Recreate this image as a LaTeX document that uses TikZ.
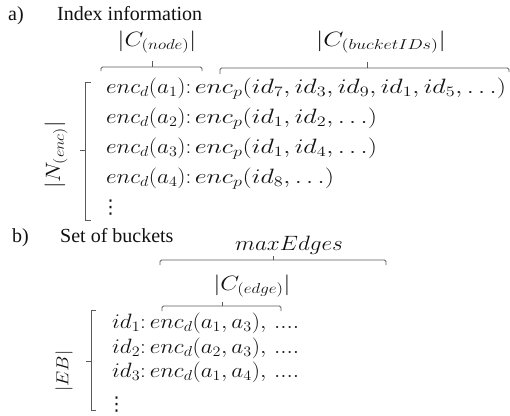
\documentclass[tikz,border=0pt]{standalone}
\usepackage{amsmath}
\usepackage{fontspec}
\setmainfont{Liberation Serif}
\newfontfamily\dvs{DejaVu Sans}
\usepackage{graphicx}
\definecolor{ln}{HTML}{5A5A5A}
\definecolor{txt}{HTML}{111111}
\newcommand{\hm}[1]{\scalebox{1.12}[1]{$#1$}}
\newcommand{\hp}[1]{\scalebox{1.26}[1]{$#1$}}
\newcommand{\vdt}{{\dvs\fontsize{19}{22}\selectfont ⋮}}
\begin{document}
\begin{tikzpicture}[x=1pt,y=-1pt,
  head/.style={font=\fontsize{20}{24}\selectfont, anchor=base west, inner sep=0pt, text=txt},
  rowa/.style={font=\fontsize{20}{24}\selectfont, anchor=base west, inner sep=0pt, text=txt},
  card/.style={font=\fontsize{21}{24}\selectfont, inner sep=0pt, text=txt},
  cardb/.style={font=\fontsize{16}{20}\selectfont, inner sep=0pt, text=txt},
  brk/.style={draw=ln, line width=0.9pt},
  brc/.style={draw=ln, line width=0.9pt, rounded corners=1.5pt}]
\useasboundingbox (0,0) rectangle (510,415);
% ---- a) ----
\node[head] (la) at (8,20) {a)};
\node[head] (ta) at (57,20) {Index information};
\node[card] (cn) at (157,42) {\scalebox{1.18}[1]{$\lvert C_{(node)}\rvert$}};
\node[card] (cb) at (381,42) {\scalebox{1.26}[1]{$\lvert C_{(bucketIDs)}\rvert$}};
\node[rowa] (r1) at (106,93) {\hm{enc_d(a_1){:}}\,\hp{enc_p(id_7,id_3,id_9,id_1,id_5,\ldots)}};
\node[rowa] (r2) at (106,123) {\hm{enc_d(a_2){:}}\,\hp{enc_p(id_1,id_2,\ldots)}};
\node[rowa] (r3) at (106,153) {\hm{enc_d(a_3){:}}\,\hp{enc_p(id_1,id_4,\ldots)}};
\node[rowa] (r4) at (106,183) {\hm{enc_d(a_4){:}}\,\hp{enc_p(id_8,\ldots)}};
\node[rowa] (r5) at (101,213) {\vdt};
\node[card, rotate=90] (ne) at (56,155) {\hm{\lvert N_{(enc)}\rvert}};
% brackets a
\draw[brk] (91,82) -- (85,82) -- (85,220) -- (91,220);
\draw[brk] (85,150) -- (80,150);
% braces a
\coordinate (b1m) at (152,67);
\draw[brc] (101,71) -- (101,67) -- (202,67) -- (202,71);
\draw[brk] (b1m) -- (152,61);
\coordinate (b2m) at (367,68);
\draw[brc] (220,74) -- (220,68) -- (509,68) -- (509,72);
\draw[brk] (b2m) -- (367,62);
% ---- b) ----
\node[head] (lb) at (12,242) {b)};
\node[head] (tb) at (60,242) {Set of buckets};
\node[card] (me) at (289,245) {\hm{maxEdges}};
\node[card] (ce) at (252,286) {\scalebox{1.18}[1]{$\lvert C_{(edge)}\rvert$}};
\node[rowa] (s1) at (112,328) {\hm{id_1{:}\,enc_d(a_1,a_3),\,....}};
\node[rowa] (s2) at (112,353) {\hm{id_2{:}\,enc_d(a_2,a_3),\,....}};
\node[rowa] (s3) at (112,377) {\hm{id_3{:}\,enc_d(a_1,a_4),\,....}};
\node[rowa] (s4) at (107,410) {\vdt};
\node[cardb, rotate=90] (eb) at (64,371) {\hm{\lvert EB\rvert}};
% bracket b
\draw[brk] (96,310) -- (91,310) -- (91,410) -- (96,410);
\draw[brk] (91,361) -- (86,361);
% braces b
\draw[brc] (160,265) -- (160,260) -- (386,260) -- (386,265);
\draw[brk] (273,260) -- (273,256);
\draw[brc] (162,311) -- (162,306) -- (281,306) -- (281,311);
\draw[brk] (222,306) -- (222,302);
\end{tikzpicture}
\end{document}
